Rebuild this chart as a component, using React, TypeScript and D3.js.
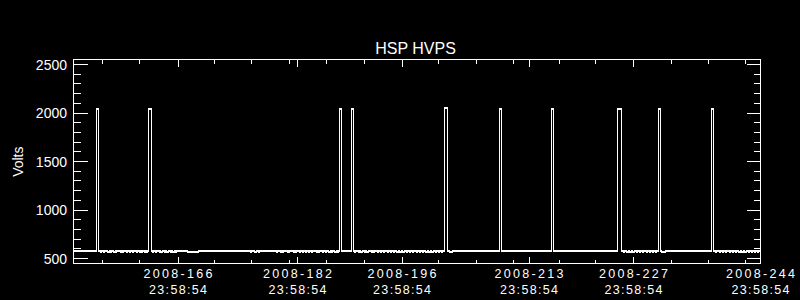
import React from "react";
import * as d3 from "d3";

// Time axis: days since 2008-152 23:58:54
const TOTAL_DAYS = 92;
const majorOffsets = [14, 30, 44, 61, 75, 92];
const majorDates = ["2008-166", "2008-182", "2008-196", "2008-213", "2008-227", "2008-244"];
const majorTimes = ["23:58:54", "23:58:54", "23:58:54", "23:58:54", "23:58:54", "23:58:54"];
const minorOffsets = [3.92, 8.88, 18.92, 23.84, 28.97, 33.92, 39.0, 48.9, 53.97, 58.97, 65.05, 69.95, 80.05, 85.08, 90.04];

const yMajor = [500, 1000, 1500, 2000, 2500];
const yMinor = [600, 700, 800, 900, 1100, 1200, 1300, 1400, 1600, 1700, 1800, 1900, 2100, 2200, 2300, 2400];

// HVPS data
const BASE = 586;
const DIP = 572;
const spikeStart = [3.08, 10.04, 35.62, 37.23, 49.68, 57.05, 64.01, 72.85, 78.34, 85.44];
const spikeEnd = [3.35, 10.45, 35.89, 37.5, 50.1, 57.32, 64.28, 73.39, 78.61, 85.71];
const spikeVolts = [2050, 2050, 2050, 2050, 2053, 2050, 2050, 2050, 2050, 2050];
const dipStart = [
  3.6, 4.0, 4.6, 4.9, 5.4, 5.6, 6.3, 6.6, 7.1, 7.5, 7.9, 8.4, 8.8, 9.1, 9.5, 9.8,
  10.6, 11.0, 11.5, 11.7, 12.2, 12.5, 13.0, 13.3, 13.7,
  23.7, 24.3, 24.8,
  27.2, 27.7, 28.0, 28.6, 28.8, 29.4, 29.7, 30.3, 30.6, 31.1, 31.5, 31.9, 32.5, 32.8, 33.3, 33.7, 34.2, 34.5, 35.0, 35.3,
  37.6, 38.1, 38.5, 39.0, 39.3, 39.9, 40.2, 40.7, 41.1, 41.5, 42.0, 42.4, 42.8, 43.3, 43.7, 44.1, 44.6, 45.0, 45.4, 45.9,
  46.3, 46.7, 47.2, 47.6, 48.0, 48.5, 48.9, 49.3,
  73.6, 74.1, 74.5, 74.9, 75.4, 75.8, 76.2, 76.7, 77.1, 77.5, 77.9,
  86.0, 86.5, 86.9, 87.3, 87.8, 88.2, 88.6, 89.1, 89.5, 89.9, 90.4, 90.8, 91.2, 91.6,
];
const DIP_WIDTH = 0.16;
const longDipStart = [15.2, 50.3, 78.72];
const longDipEnd = [16.8, 50.8, 79.3];
const longDipVolts = [576, 576, 576];

function buildSeries(): [number, number][] {
  const ev: [number, number][] = [[0, BASE]];
  spikeStart.forEach((s, i) => {
    ev.push([s, spikeVolts[i]]);
    ev.push([spikeEnd[i], BASE]);
  });
  dipStart.forEach((d) => {
    ev.push([d, DIP]);
    ev.push([d + DIP_WIDTH, BASE]);
  });
  longDipStart.forEach((s, i) => {
    ev.push([s, longDipVolts[i]]);
    ev.push([longDipEnd[i], BASE]);
  });
  ev.push([TOTAL_DAYS, BASE]);
  ev.sort((a, b) => a[0] - b[0]);
  return ev;
}

const W = 800;
const H = 300;
const L = 73.5;
const R = 760.5;
const T = 59.5;
const B = 263.5;

export default function App() {
  const x = d3.scaleLinear().domain([0, TOTAL_DAYS]).range([L, R]);
  const y = d3.scaleLinear().domain([500, 2500]).range([258.5, 64.5]);
  const series = buildSeries();
  const line = d3
    .line<[number, number]>()
    .x((d) => x(d[0]))
    .y((d) => y(d[1]))
    .curve(d3.curveStepAfter);
  const path = line(series) || "";
  const font = "'Liberation Sans', Arial, sans-serif";
  const ry = (v: number) => Math.round(y(v) - 0.5) + 0.5;
  const rx = (v: number) => Math.round(x(v) - 0.5) + 0.5;

  return (
    <div style={{ position: "absolute", left: 0, top: 0, width: W, height: H, background: "#000" }}>
      <svg width={W} height={H} style={{ display: "block", background: "#000" }}>
        <rect x={0} y={0} width={W} height={H} fill="#000" />
        <g stroke="#fff" strokeWidth={1} shapeRendering="crispEdges" fill="none">
          <rect x={L} y={T} width={R - L} height={B - T} />
          {yMajor.map((v) => (
            <g key={"ym" + v}>
              <line x1={L} x2={L + 14} y1={ry(v)} y2={ry(v)} />
              <line x1={R} x2={R - 14} y1={ry(v)} y2={ry(v)} />
            </g>
          ))}
          {yMinor.map((v) => (
            <g key={"yn" + v}>
              <line x1={L} x2={L + 7} y1={ry(v)} y2={ry(v)} />
              <line x1={R} x2={R - 7} y1={ry(v)} y2={ry(v)} />
            </g>
          ))}
          {majorOffsets.map((d) => (
            <g key={"xm" + d}>
              <line x1={rx(d)} x2={rx(d)} y1={B} y2={B - 7} />
              <line x1={rx(d)} x2={rx(d)} y1={T} y2={T + 7} />
            </g>
          ))}
          {minorOffsets.map((d) => (
            <g key={"xn" + d}>
              <line x1={rx(d)} x2={rx(d)} y1={B} y2={B - 4} />
              <line x1={rx(d)} x2={rx(d)} y1={T} y2={T + 4} />
            </g>
          ))}
          <path d={path} />
          <path d={path} transform="translate(0,1)" />
        </g>
        <g fill="#fff" fontFamily={font}>
          <text x={415.5} y={53.5} fontSize={16} textAnchor="middle">
            HSP HVPS
          </text>
          {yMajor.map((v) => (
            <text key={"yl" + v} x={67} y={y(v) + 5} fontSize={14} textAnchor="end">
              {v}
            </text>
          ))}
          <text
            transform="translate(23,161.7) rotate(-90)"
            fontSize={14}
            textAnchor="middle"
          >
            Volts
          </text>
          {majorOffsets.map((d, i) => (
            <g key={"xl" + d}>
              <text
                x={x(d) - 34.5}
                y={278}
                fontSize={12.5}
                textLength={69}
                lengthAdjust="spacing"
              >
                {majorDates[i]}
              </text>
              <text
                x={x(d) - 29}
                y={293.5}
                fontSize={12.5}
                textLength={58}
                lengthAdjust="spacing"
              >
                {majorTimes[i]}
              </text>
            </g>
          ))}
        </g>
      </svg>
    </div>
  );
}
